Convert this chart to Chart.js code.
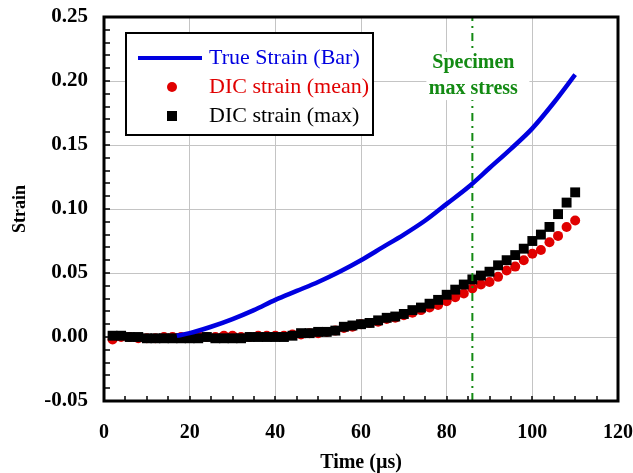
<!DOCTYPE html>
<html>
<head>
<meta charset="utf-8">
<script src="https://cdn.jsdelivr.net/npm/chart.js@4.4.0/dist/chart.umd.min.js"></script>
<style>
  html, body { margin: 0; padding: 0; background: #fff; }
  #wrap { width: 633px; height: 473px; }
</style>
</head>
<body>
<div id="wrap"><canvas id="grafico" width="633" height="473"></canvas></div>
<script>
// Datos
const tiempoBarra = [17, 20, 25, 30, 35, 40, 45, 50, 55, 60, 65, 70, 75, 80, 85, 90, 95, 100, 105, 110];
const strainBarra = [0.001, 0.003, 0.008, 0.014, 0.021, 0.029, 0.036, 0.043, 0.051, 0.060, 0.070, 0.080, 0.091, 0.104, 0.117, 0.132, 0.147, 0.163, 0.183, 0.205];

const tiempoDIC = [2, 4, 6, 8, 10, 12, 14, 16, 18, 20, 22, 24, 26, 28, 30, 32, 34, 36, 38, 40,
  42, 44, 46, 48, 50, 52, 54, 56, 58, 60, 62, 64, 66, 68, 70, 72, 74, 76, 78, 80,
  82, 84, 86, 88, 90, 92, 94, 96, 98, 100, 102, 104, 106, 108, 110];
const dicMedia = [-0.002, 0.000, 0.000, -0.001, -0.001, -0.001, 0.000, 0.000, 0.000, 0.000,
  0.001, 0.000, 0.000, 0.001, 0.001, 0.000, 0.000, 0.001, 0.001, 0.001,
  0.001, 0.002, 0.002, 0.003, 0.003, 0.004, 0.005, 0.007, 0.008, 0.010,
  0.011, 0.012, 0.014, 0.015, 0.017, 0.019, 0.021, 0.023, 0.025, 0.028,
  0.031, 0.034, 0.038, 0.041, 0.043, 0.047, 0.052, 0.055, 0.060, 0.065,
  0.068, 0.074, 0.079, 0.086, 0.091];
const dicMax = [0.001, 0.001, 0.000, 0.000, -0.001, -0.001, -0.001, -0.001, -0.001, -0.001,
  -0.001, 0.000, -0.001, -0.001, -0.001, -0.001, 0.000, 0.000, 0.000, 0.000,
  0.000, 0.001, 0.003, 0.003, 0.004, 0.004, 0.005, 0.008, 0.009, 0.010,
  0.011, 0.013, 0.015, 0.016, 0.018, 0.021, 0.023, 0.026, 0.029, 0.033,
  0.037, 0.041, 0.045, 0.048, 0.051, 0.056, 0.060, 0.064, 0.069, 0.075,
  0.080, 0.086, 0.096, 0.105, 0.113];

const tiempoMaxStress = 86;
const ticksX = { min: 0, max: 120, paso: 20 };
const ticksY = { min: -0.05, max: 0.25, paso: 0.05 };

const serif = "'Liberation Serif', 'Times New Roman', serif";
Chart.defaults.font.family = serif;
Chart.defaults.color = '#000';

// marco negro y marcas menores hacia adentro
const marco = {
  id: 'marco',
  afterDatasetsDraw(c) {
    const { ctx, chartArea: a, scales: { x, y } } = c;
    ctx.save();
    ctx.strokeStyle = '#000';
    ctx.lineWidth = 1.5;
    ctx.beginPath();
    for (let i = -5; i <= 25; i++) {
      const py = Math.round(y.getPixelForValue(i / 100));
      ctx.moveTo(a.left, py); ctx.lineTo(a.left + 6, py);
    }
    for (let t = 0; t <= 120; t += 5) {
      const px = Math.round(x.getPixelForValue(t));
      ctx.moveTo(px, a.bottom); ctx.lineTo(px, a.bottom - 5);
    }
    ctx.stroke();
    ctx.lineWidth = 3;
    ctx.strokeRect(a.left, a.top, a.right - a.left, a.bottom - a.top);
    ctx.restore();
  }
};

// texto "Specimen max stress" con fondo blanco
const rotulo = {
  id: 'rotulo',
  afterDatasetsDraw(c) {
    const { ctx, scales: { x, y } } = c;
    const cx = x.getPixelForValue(tiempoMaxStress);
    const y1 = y.getPixelForValue(0.214);
    const y2 = y.getPixelForValue(0.194);
    ctx.save();
    ctx.fillStyle = '#fff';
    ctx.fillRect(cx - 46, y1 - 11, 103, 48);
    ctx.fillStyle = '#138a13';
    ctx.font = 'bold 20px ' + serif;
    ctx.textAlign = 'center';
    ctx.textBaseline = 'middle';
    ctx.fillText('Specimen', cx + 1, y1);
    ctx.fillText('max stress', cx + 1, y2);
    ctx.restore();
  }
};

// leyenda dentro del area
const leyenda = {
  id: 'leyenda',
  afterDraw(c) {
    const { ctx, chartArea: a } = c;
    const bx = a.left + 22, by = a.top + 16, bw = 247, bh = 102;
    ctx.save();
    ctx.fillStyle = '#fff';
    ctx.fillRect(bx, by, bw, bh);
    ctx.strokeStyle = '#000';
    ctx.lineWidth = 2;
    ctx.strokeRect(bx, by, bw, bh);
    const filas = [by + 25, by + 54, by + 83];
    const mx = bx + 46, tx = bx + 83;
    ctx.strokeStyle = '#0000e0';
    ctx.lineWidth = 4;
    ctx.beginPath(); ctx.moveTo(bx + 12, filas[0]); ctx.lineTo(bx + 76, filas[0]); ctx.stroke();
    ctx.fillStyle = '#e00000';
    ctx.beginPath(); ctx.arc(mx, filas[1], 5, 0, Math.PI * 2); ctx.fill();
    ctx.fillStyle = '#000';
    ctx.fillRect(mx - 5, filas[2] - 5, 10, 10);
    ctx.font = '22px ' + serif;
    ctx.textBaseline = 'middle';
    ctx.fillStyle = '#0000e0'; ctx.fillText('True Strain (Bar)', tx, filas[0]);
    ctx.fillStyle = '#e00000'; ctx.fillText('DIC strain (mean)', tx, filas[1]);
    ctx.fillStyle = '#000'; ctx.fillText('DIC strain (max)', tx, filas[2]);
    ctx.restore();
  }
};

const aPuntos = (xs, ys) => xs.map((t, i) => ({ x: t, y: ys[i] }));

new Chart(document.getElementById('grafico'), {
  type: 'scatter',
  data: {
    datasets: [
      {
        label: 'True Strain (Bar)',
        type: 'line',
        data: aPuntos(tiempoBarra, strainBarra),
        borderColor: '#0000e0',
        borderWidth: 4.5,
        pointRadius: 0,
        cubicInterpolationMode: 'monotone',
        order: 0
      },
      {
        label: 'Specimen max stress',
        type: 'line',
        data: [{ x: tiempoMaxStress, y: ticksY.min }, { x: tiempoMaxStress, y: ticksY.max }],
        borderColor: '#138a13',
        borderWidth: 2,
        borderDash: [8, 5, 2, 5],
        pointRadius: 0,
        order: 1
      },
      {
        label: 'DIC strain (max)',
        data: aPuntos(tiempoDIC, dicMax),
        pointStyle: 'rect',
        pointRadius: 7,
        pointBackgroundColor: '#000',
        pointBorderWidth: 0,
        order: 2
      },
      {
        label: 'DIC strain (mean)',
        data: aPuntos(tiempoDIC, dicMedia),
        pointStyle: 'circle',
        pointRadius: 5,
        pointBackgroundColor: '#e00000',
        pointBorderWidth: 0,
        order: 3
      }
    ]
  },
  options: {
    responsive: false,
    animation: false,
    layout: { padding: { top: 17, right: 0, bottom: 0, left: 0 } },
    plugins: { legend: { display: false }, tooltip: { enabled: false } },
    scales: {
      x: {
        type: 'linear',
        min: ticksX.min,
        max: ticksX.max,
        ticks: { stepSize: ticksX.paso, font: { size: 20, weight: 'bold' }, padding: 0, color: '#000' },
        grid: { color: '#c4c4c4', tickLength: 20, tickColor: 'rgba(0,0,0,0)' },
        border: { display: false },
        title: { display: true, text: 'Time (µs)', font: { size: 20, weight: 'bold', lineHeight: 1 }, padding: { top: 0, bottom: 0 }, color: '#000' },
        afterFit: s => { s.height = 72; }
      },
      y: {
        min: ticksY.min,
        max: ticksY.max,
        ticks: {
          stepSize: ticksY.paso,
          font: { size: 21, weight: 'bold' },
          padding: 0,
          color: '#000',
          callback: v => (Math.abs(v) < 1e-9 ? 0 : v).toFixed(2)
        },
        grid: { color: '#c4c4c4', tickLength: 16, tickColor: 'rgba(0,0,0,0)' },
        border: { display: false },
        title: { display: true, text: 'Strain', font: { size: 18, weight: 'bold' }, padding: { top: 10, bottom: 0 }, color: '#000' },
        afterFit: s => { s.width = 104; }
      }
    }
  },
  plugins: [marco, rotulo, leyenda]
});
</script>
</body>
</html>
